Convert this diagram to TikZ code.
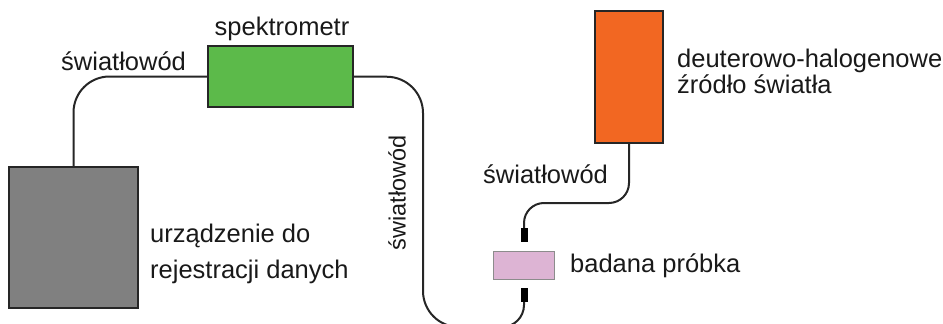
\documentclass[tikz,border=0pt]{standalone}
\usepackage{fontspec}
\setmainfont{Liberation Sans}
\definecolor{recgray}{RGB}{128,128,128}
\definecolor{specgreen}{RGB}{92,186,74}
\definecolor{lamporange}{RGB}{242,103,34}
\definecolor{samplepink}{RGB}{221,180,212}
\definecolor{txt}{RGB}{25,25,25}
\begin{document}
\begin{tikzpicture}[x=1pt,y=-1pt,
  box/.style={draw=black!85,line width=2pt,inner sep=0pt},
  fiber/.style={draw=black!85,line width=2pt},
  plug/.style={fill=black,inner sep=0pt,minimum width=7pt,minimum height=14pt},
  lbl/.style={text=txt,inner sep=0pt,font=\fontsize{25.5pt}{30pt}\selectfont},
]
\useasboundingbox (0,0) rectangle (943,324);

% devices
\node[box,fill=recgray,minimum width=129pt,minimum height=141pt] (rec) at (73.5,237.5) {};
\node[box,fill=specgreen,minimum width=145pt,minimum height=61pt] (spec) at (280.5,76.5) {};
\node[box,fill=lamporange,minimum width=68pt,minimum height=132pt] (lamp) at (629,77) {};
\node[draw=black!45,line width=1pt,fill=samplepink,inner sep=0pt,minimum width=61pt,minimum height=28pt] (sample) at (523.5,265) {};

% fibre plugs on both sides of the sample
\node[plug] (plugtop) at (524,235) {};
\node[plug] (plugbot) at (524,295) {};

% bends of the fibres
\coordinate (ra) at (423,77);
\coordinate (rb) at (423,327);
\coordinate (rc) at (524,327);
\coordinate (ua) at (629,203);
\coordinate (ub) at (524,203);

% fibres
\draw[fiber,rounded corners=36pt] (rec.north) |- (spec.west);
\draw[fiber,rounded corners=36pt] (spec.east) -- (ra) -- (rb) [rounded corners=22pt] -- (rc) -- (plugbot.south);
\draw[fiber,rounded corners=20pt] (lamp.south) -- (ua) -- (ub) -- (plugtop.north);

% labels
\node[lbl,anchor=base] (tspec) at (282,35) {spektrometr};
\node[lbl,anchor=base west] (tfibA) at (61,70) {światłowód};
\node[lbl,anchor=base west] (tfibB) at (483,183) {światłowód};
\node[lbl,rotate=90,font=\fontsize{23.5pt}{28pt}\selectfont] (tfibC) at (397,193) {światłowód};
\node[lbl,anchor=base west] (tsample) at (570,272) {badana próbka};
\node[lbl,anchor=base west] (trecA) at (150,242) {urządzenie do};
\node[lbl,anchor=base west] (trecB) at (150,278) {rejestracji danych};
\node[lbl,anchor=base west] (tlampA) at (677,67) {deuterowo-halogenowe};
\node[lbl,anchor=base west] (tlampB) at (677,93) {źródło światła};
\end{tikzpicture}
\end{document}
